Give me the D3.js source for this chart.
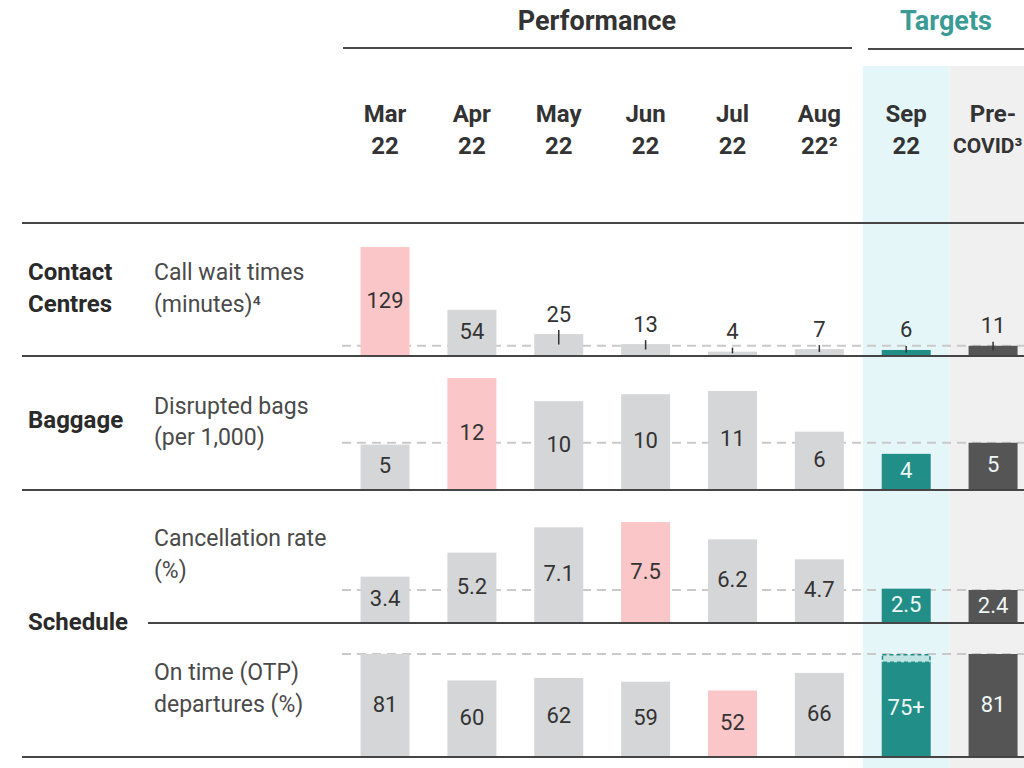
<!DOCTYPE html>
<html><head><meta charset="utf-8">
<script src="https://cdn.jsdelivr.net/npm/d3@7"></script>
<style>body{margin:0;background:#fff}svg{display:block;font-family:Roboto,"Noto Sans",sans-serif}</style>
</head><body><svg id="c" width="1024" height="768"></svg>
<script>
// ---- data ----
const colLine1 = ["Mar","Apr","May","Jun","Jul","Aug","Sep","Pre-"];
const colLine2 = ["22","22","22","22","22","22\u00B2","22","COVID\u00B3"];
const colKind = ["perf","perf","perf","perf","perf","perf","target","precovid"];
const callWait = [129,54,25,13,4,7,6,11];
const callWaitLabels = ["129","54","25","13","4","7","6","11"];
const bags = [4.8,12,9.5,10.25,10.6,6.2,3.8,5];
const bagsLabels = ["5","12","10","10","11","6","4","5"];
const cancel = [3.4,5.2,7.1,7.5,6.2,4.7,2.5,2.4];
const cancelLabels = ["3.4","5.2","7.1","7.5","6.2","4.7","2.5","2.4"];
const otp = [81,60,62,59,52,66,75,81];
const otpLabels = ["81","60","62","59","52","66","75+","81"];
const worstIndex = [0,1,3,4]; // worst performance month per row

const svg = d3.select("#c");
const C = {grey:"#d5d6d8", pink:"#fac6c7", teal:"#218f87", dark:"#555555",
  line:"#454545", text:"#333333", sub:"#4a4a4a", tealText:"#3a9b94",
  sepBg:"#e5f6f8", preBg:"#f0f0f0", dash:"#c9c9c9"};

const x = d3.scaleBand().domain(d3.range(8)).range([341.6,1036.5]).paddingInner(0.436).paddingOuter(0.218);
const step = x.step(), bw = x.bandwidth();
const colLeft = i => x(i) - (step - bw)/2;

// column backgrounds
svg.append("rect").attr("x",colLeft(6)).attr("y",66).attr("width",step).attr("height",702).attr("fill",C.sepBg);
svg.append("rect").attr("x",colLeft(7)).attr("y",66).attr("width",step).attr("height",702).attr("fill",C.preBg);

// header
svg.append("text").attr("x",597).attr("y",21).attr("text-anchor","middle").attr("dominant-baseline","central")
  .attr("font-size",27).attr("font-weight","bold").attr("fill",C.text).text("Performance");
svg.append("text").attr("x",946).attr("y",21).attr("text-anchor","middle").attr("dominant-baseline","central")
  .attr("font-size",27).attr("font-weight","bold").attr("fill",C.tealText).text("Targets");
svg.append("line").attr("x1",343).attr("x2",852).attr("y1",48).attr("y2",48).attr("stroke",C.sub).attr("stroke-width",2);
svg.append("line").attr("x1",868).attr("x2",1024).attr("y1",49).attr("y2",49).attr("stroke",C.sub).attr("stroke-width",2);

const cols = svg.append("g");
colLine1.forEach((t,i)=>{
  const cx = x(i)+bw/2;
  cols.append("text").attr("x",cx).attr("y",114).attr("text-anchor","middle").attr("dominant-baseline","central")
    .attr("font-size",24).attr("font-weight","bold").attr("fill",C.text).text(t);
  const t2 = cols.append("text").attr("y",146).attr("dominant-baseline","central")
    .attr("font-weight","bold").attr("fill",C.text).text(colLine2[i]);
  if(i===7){ t2.attr("x",953).attr("font-size",21); }
  else { t2.attr("x",cx).attr("text-anchor","middle").attr("font-size",24); }
});

// separator lines
[[22,223],[22,356],[22,490],[148,623],[22,757]].forEach(([x1,y])=>{
  svg.append("line").attr("x1",x1).attr("x2",1024).attr("y1",y).attr("y2",y).attr("stroke",C.line).attr("stroke-width",2);
});

// left labels
function lab(txt,xx,y,bold){
  svg.append("text").attr("x",xx).attr("y",y).attr("dominant-baseline","central")
    .attr("font-size",bold?24:23).attr("font-weight",bold?"bold":"normal").attr("fill",bold?"#2a2a2a":C.sub).text(txt);
}
lab("Contact",28,272,true); lab("Centres",28,304,true);
lab("Call wait times",154,272,false); lab("(minutes)\u2074",154,304,false);
lab("Baggage",28,420,true);
lab("Disrupted bags",154,406,false); lab("(per 1,000)",154,437,false);
lab("Schedule",28,622,true);
lab("Cancellation rate",154,538,false); lab("(%)",154,570,false);
lab("On time (OTP)",154,672,false); lab("departures (%)",154,704,false);

// rows
const rows = [
  {vals:callWait, labels:callWaitLabels, max:129, base:355, top:247},
  {vals:bags, labels:bagsLabels, max:12, base:489, top:378},
  {vals:cancel, labels:cancelLabels, max:7.5, base:622, top:522},
  {vals:otp, labels:otpLabels, max:81, base:756, top:654}
];
rows.forEach((r,ri)=>{
  const y = d3.scaleLinear().domain([0,r.max]).range([r.base,r.top]);
  const g = svg.append("g");
  // pre-COVID reference dashed line
  g.append("line").attr("x1",342).attr("x2",1024).attr("y1",y(r.vals[7])).attr("y2",y(r.vals[7]))
    .attr("stroke",C.dash).attr("stroke-width",2).attr("stroke-dasharray","9,6");
  r.vals.forEach((v,i)=>{
    const fill = colKind[i]==="target"?C.teal:colKind[i]==="precovid"?C.dark:(worstIndex[ri]===i?C.pink:C.grey);
    const top = y(v), h = r.base - top;
    g.append("rect").attr("x",x(i)).attr("y",top).attr("width",bw).attr("height",h).attr("fill",fill);
    const cx = x(i)+bw/2;
    const light = colKind[i]!=="perf";
    if(h >= 28){
      g.append("text").attr("x",cx).attr("y",top+h/2-1).attr("text-anchor","middle").attr("dominant-baseline","central")
        .attr("font-size",22).attr("fill",light?"#eef7f6":C.text).text(r.labels[i]);
    } else {
      g.append("line").attr("x1",cx).attr("x2",cx).attr("y1",top-4).attr("y2",top+h/2)
        .attr("stroke",C.text).attr("stroke-width",1.5);
      g.append("text").attr("x",cx).attr("y",top-20).attr("text-anchor","middle").attr("dominant-baseline","central")
        .attr("font-size",22).attr("fill",C.text).text(r.labels[i]);
    }
    // "+" target extension up to pre-COVID level
    if(r.labels[i].endsWith("+")){
      g.append("rect").attr("x",x(i)+0.75).attr("y",y(r.vals[7])+0.75).attr("width",bw-1.5).attr("height",top-y(r.vals[7]))
        .attr("fill","#bfe4e1").attr("stroke",C.teal).attr("stroke-width",1.5).attr("stroke-dasharray","4,3");
    }
  });
});
</script></body></html>
